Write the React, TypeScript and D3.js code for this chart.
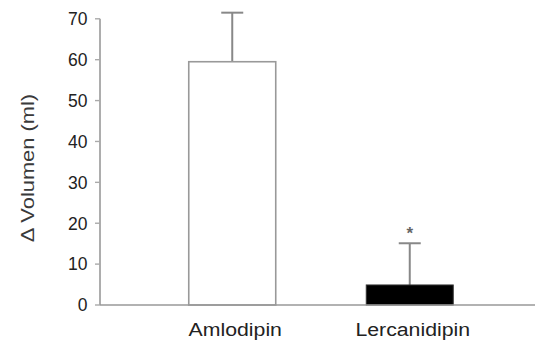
import { scaleBand, scaleLinear } from "d3";

const WIDTH = 535;
const HEIGHT = 343;

const categories = ["Amlodipin", "Lercanidipin"];
const means = [59.5, 4.9];
const errors = [12, 10.2];
const fills = ["#ffffff", "#000000"];
const significance = ["", "*"];
const yTicks = [0, 10, 20, 30, 40, 50, 60, 70];

const AXIS_X = 100;
const BASE_Y = 305;

export default function App() {
  const x = scaleBand<string>()
    .domain(categories)
    .range([AXIS_X, 542])
    .paddingInner(0.51)
    .paddingOuter(0.5);
  const y = scaleLinear().domain([0, 70]).range([BASE_Y, 18.8]);
  const font = "'Liberation Sans', Arial, sans-serif";

  return (
    <svg
      width={WIDTH}
      height={HEIGHT}
      style={{ position: "absolute", left: 0, top: 0, background: "#fff" }}
      fontFamily={font}
    >
      {/* y axis */}
      <line x1={AXIS_X} x2={AXIS_X} y1={y(70)} y2={BASE_Y} stroke="#999" strokeWidth={1.6} />
      {yTicks.map((t) => (
        <g key={t}>
          <line x1={AXIS_X - 5} x2={AXIS_X} y1={y(t)} y2={y(t)} stroke="#aaa" strokeWidth={1.4} />
          <text x={AXIS_X - 12.5} y={y(t)} dy="0.36em" textAnchor="end" fontSize={17.5} fill="#222">
            {t}
          </text>
        </g>
      ))}
      <text
        transform={`translate(34, 168) rotate(-90) scale(1.25, 1)`}
        textAnchor="middle"
        fontSize={17.5}
        fill="#3a3a3a"
      >
        Δ Volumen (ml)
      </text>

      {/* bars */}
      {categories.map((c, i) => {
        const x0 = x(c) ?? 0;
        const bw = x.bandwidth();
        const cx = x0 + bw / 2;
        const top = y(means[i] + errors[i]);
        return (
          <g key={c}>
            <line x1={cx} x2={cx} y1={top} y2={y(means[i])} stroke="#888" strokeWidth={2} />
            <line x1={cx - 11} x2={cx + 11} y1={top} y2={top} stroke="#888" strokeWidth={2} />
            <rect
              x={x0}
              y={y(means[i])}
              width={bw}
              height={BASE_Y - y(means[i])}
              fill={fills[i]}
              stroke={i === 0 ? "#999" : "#333"}
              strokeWidth={i === 0 ? 1.6 : 1}
            />
            {significance[i] ? (
              <text x={cx} y={top - 4} textAnchor="middle" fontSize={17} fontWeight="bold" fill="#666">
                {significance[i]}
              </text>
            ) : null}
            <text
              transform={`translate(${cx + 3}, 335.5) scale(1.12, 1)`}
              textAnchor="middle"
              fontSize={19}
              fill="#222"
            >
              {c}
            </text>
          </g>
        );
      })}

      {/* x axis */}
      <line x1={AXIS_X} x2={WIDTH} y1={BASE_Y} y2={BASE_Y} stroke="#999" strokeWidth={1.6} />
    </svg>
  );
}
